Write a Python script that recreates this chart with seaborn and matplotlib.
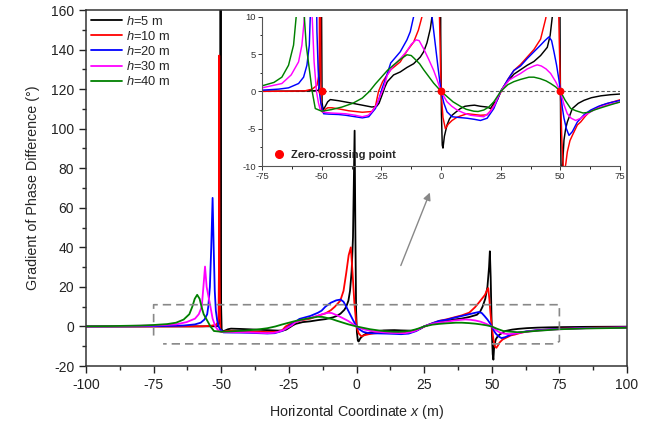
import numpy as np
import pandas as pd
import matplotlib
matplotlib.use("Agg")
import matplotlib.pyplot as plt
import seaborn as sns
from matplotlib.lines import Line2D
from matplotlib.ticker import MultipleLocator

sns.set_style("ticks")
plt.rcParams["font.family"] = ["Liberation Sans", "DejaVu Sans"]
plt.rcParams["mathtext.fontset"] = "custom"
plt.rcParams["mathtext.it"] = "Liberation Sans:italic"
plt.rcParams["mathtext.rm"] = "Liberation Sans"
plt.rcParams["axes.unicode_minus"] = False

# ---------------- data ----------------
labels = ["$h$=5 m", "$h$=10 m", "$h$=20 m", "$h$=30 m", "$h$=40 m"]
colors = ["#000000", "#ff0000", "#0000ff", "#ff00ff", "#008000"]

x_h5 = [-100, -90, -80, -75, -65, -58, -54, -52.5, -51.3, -50.8, -50.45, -50.25, -50.05, -49.85,
        -49.4, -48.5, -47.5, -46.4, -43, -38.7, -33, -29, -27, -26, -24.5, -23.5, -22.5, -19.9,
        -17.1, -14.3, -11.5, -8.7, -7.3, -5.9, -4.5, -3.8, -3.0, -2.4, -1.8, -1.3, -0.7, -0.4,
        -0.15, 0.15, 0.5, 0.8, 1.4, 2.5, 3.5, 4.6, 6.5, 8.1, 10, 12.3, 14, 16.5, 19.3, 20.7, 22.1,
        23.5, 24.9, 27, 30.5, 33.3, 36.1, 38.9, 41.7, 44.5, 45.7, 46.6, 47.6, 48.4, 49.0, 49.3,
        49.6, 49.9, 50.1, 50.35, 50.6, 50.9, 51.5, 52.2, 52.9, 55, 57.5, 59.9, 63, 66.9, 71, 75.3,
        85, 100]
y_h5 = [0, 0, 0, 0.02, 0.03, 0.05, 0.08, 0.1, 0.15, 1.5, 10, 200, 10, -1.5,
        -2.5, -2.0, -1.4, -1.1, -1.25, -1.5, -1.85, -2.1, -2.0, -1.6, -0.3, 0.6, 1.3, 2.2,
        2.6, 3.2, 3.7, 4.6, 5.3, 6.5, 8.4, 10, 13, 18, 28, 45, 99, 45,
        8, -3, -7.2, -7.6, -6, -4.5, -3.7, -3.2, -2.7, -2.3, -2.0, -1.9, -1.85, -2.0, -2.1, -2.3, -1.6,
        -1.2, 0, 1.0, 2.3, 2.9, 3.5, 4.0, 4.8, 5.9, 7.5, 10, 14, 20, 30, 38,
        25, 5, -5, -14, -16.8, -10, -6.5, -5.0, -4.1, -2.3, -1.6, -1.2, -0.85, -0.6, -0.45, -0.35,
        -0.2, -0.1]

x_h10 = [-100, -80, -75, -65, -57, -54, -52, -51.3, -51.0, -50.85, -50.75, -50.6, -50.45, -50.3,
         -50.0, -49.4, -48.5, -47.5, -45.7, -42, -38.7, -33, -29, -27.5, -26.2, -24.5, -21.1,
         -17.1, -14.3, -11.5, -9.5, -8, -6, -4.8, -3.8, -2.9, -2.1, -1.5, -0.8, 0, 0.8, 1.8, 3,
         4.6, 6.5, 8.1, 10.9, 13.7, 16.5, 19.3, 20.7, 22.8, 25.2, 28, 30.5, 33.3, 36.1, 38.9, 41.7,
         43.8, 45.5, 47.5, 48.3, 48.7, 49.1, 49.5, 50.0, 50.6, 51.2, 51.7, 52.3, 52.9, 54, 55,
         57.1, 58.5, 60.5, 62.7, 64.1, 67, 71.1, 75.3, 85, 100]
y_h10 = [0, 0, 0, 0.02, 0.07, 0.3, 0.8, 2.0, 5, 30, 137, 30, 5, -1.5,
         -2.7, -2.8, -2.4, -2.2, -2.2, -2.4, -2.6, -2.8, -2.7, -2.0, 0, 1.3, 2.9,
         3.95, 5.4, 6.6, 8.2, 10, 13, 18, 27, 36, 40, 28, 12, 0, -3.5, -5.0, -4.4,
         -3.9, -3.5, -3.3, -3.0, -3.1, -3.2, -3.15, -2.6, -1.6, 0, 1.6, 2.8, 3.6, 4.6, 5.6, 7.0,
         9.7, 12.5, 16, 18.5, 19.4, 14, 7, 0, -6.5, -10.2, -10.8, -9.6, -8.1, -6.6, -5.9,
         -4.5, -4.1, -3.3, -2.6, -2.4, -1.9, -1.5, -1.1, -0.7, -0.4]

x_h20 = [-100, -85, -75, -68, -63.9, -59.7, -57.6, -56.2, -55.2, -54.8, -54.2, -53.7, -53.2,
         -52.8, -52.4, -52.0, -51.5, -51.0, -50.4, -49.2, -47, -43, -40, -36, -33, -30.3, -27.5,
         -26, -24.7, -22.5, -21.1, -17.1, -14.3, -12.9, -11.5, -9.5, -7.5, -5.9, -4.8, -3.8, -2.5,
         -1.2, 0, 1.2, 2.5, 4.6, 7.5, 10.9, 14, 16.5, 19.3, 22.1, 25, 28, 30.5, 33.3, 36.1, 38.9,
         41.7, 43.5, 45.2, 46.3, 47.3, 48.4, 49.4, 50.0, 50.8, 51.5, 52.5, 53.6, 55, 57.1, 60,
         62.7, 66, 69.7, 75.3, 85, 100]
y_h20 = [0.02, 0.06, 0.16, 0.3, 0.47, 1.05, 1.9, 3.5, 6.2, 10, 20, 40, 65,
         40, 18, 8, 3, 0, -1.5, -3.0, -3.05, -3.1, -3.2, -3.4, -3.55, -3.4, -2.3,
         -1.0, 0.4, 2.4, 3.8, 5.3, 6.9, 8.0, 10, 12, 13.2, 13.6, 12.5, 10, 6.5,
         3, 0, -1.6, -2.75, -3.4, -3.5, -3.6, -3.75, -3.9, -3.6, -2.3, 0, 1.6, 2.8, 3.4, 4.4, 5.3,
         6.2, 6.8, 7.3, 6.8, 5.3, 3.5, 1.5, 0, -2.2, -3.6, -5.0, -5.9, -5.4, -4.1, -3.1,
         -2.5, -2.0, -1.6, -1.2, -0.8, -0.5]

x_h30 = [-100, -85, -75, -66.7, -62.8, -59.7, -58.3, -57.2, -56.6, -56.0, -55.4, -54.0, -53.2,
         -52.2, -51.4, -50.6, -49.2, -46, -40, -36, -33, -30.5, -28.9, -27, -26, -24, -22.5, -20,
         -17, -14.3, -12.5, -10.5, -9.2, -7.3, -5.2, -3.1, -1.5, 0, 1.2, 2.5, 4.5, 6.7, 9.5, 12.3,
         15, 17.9, 20.7, 22.5, 24.2, 26, 28.5, 30.5, 33.3, 36.1, 38.9, 40.3, 42, 44, 45.9, 48, 50,
         51.5, 52.9, 54.5, 56.4, 58.5, 61.3, 64, 66.9, 71, 75.3, 85, 100]
y_h30 = [0.1, 0.25, 0.47, 1.05, 2.2, 3.95, 6.2, 10, 20, 30.3, 20, 10, 4,
         0, -1.5, -2.5, -2.8, -2.9, -3.0, -3.2, -3.4, -3.2, -2.7, -1.8, -1.0, 0.5, 2.2, 3.4,
         4.4, 5.4, 6.3, 6.9, 6.8, 5.7, 4.3, 2.8, 1.4, 0, -0.7, -1.4, -2.0, -2.5, -2.9, -3.2,
         -3.3, -3.4, -2.7, -1.8, -0.5, 0.5, 1.5, 1.9, 2.4, 3.0, 3.4, 3.55, 3.4, 3.0, 2.4, 1.3, 0,
         -1.8, -3.0, -3.6, -3.9, -3.6, -3.0, -2.5, -2.1, -1.7, -1.4, -0.9, -0.6]

x_h40 = [-100, -90, -80, -75, -70, -66.7, -63.9, -61.8, -60.7, -59.8, -58.9, -58.0, -57.3,
         -56.5, -55.2, -54, -52.7, -50, -46, -41.5, -37, -33, -30, -27.5, -25, -22.5, -20, -17,
         -14.3, -12.5, -11.5, -9, -7.3, -5.9, -3.1, 0, 2.5, 5, 8.1, 10.5, 13.7, 15.5, 17.9, 20,
         22.1, 25, 28, 30.5, 33.3, 36.8, 38.9, 41.5, 44, 45.9, 48, 50, 52, 54.3, 56.5, 59.5, 62,
         64.1, 67, 71, 75.3, 85, 100]
y_h40 = [0.12, 0.22, 0.45, 0.74, 1.2, 1.9, 3.5, 6.2, 10, 14, 16, 14, 10,
         6.2, 3, 0, -2.3, -2.66, -2.45, -2.1, -1.6, -0.9, 0, 1.0, 1.9, 2.8, 3.5, 4.3,
         4.9, 4.8, 4.5, 3.7, 2.9, 2.3, 1.1, 0, -0.7, -1.4, -2.0, -2.4, -2.66, -2.7, -2.5, -2.1,
         -1.4, 0, 0.9, 1.3, 1.6, 1.9, 1.9, 1.7, 1.4, 1.05, 0.6, 0, -1.2, -2.3, -2.6, -2.9, -2.8,
         -2.5, -2.2, -1.8, -1.4, -1.0, -0.7]

zero_x = [-50, 0, 50]
zero_y = [0, 0, 0]

# ---------------- build long table ----------------
series_x = [x_h5, x_h10, x_h20, x_h30, x_h40]
series_y = [y_h5, y_h10, y_h20, y_h30, y_h40]
frames = []
for lab, xs, ys in zip(labels, series_x, series_y):
    frames.append(pd.DataFrame({"x": xs, "y": ys, "series": lab}))
df = pd.concat(frames, ignore_index=True)

fig = plt.figure(figsize=(6.53, 4.21), dpi=100)
ax = fig.add_axes([0.1317, 0.1306, 0.8285, 0.8456])

sns.lineplot(data=df, x="x", y="y", hue="series", hue_order=labels, palette=colors,
             estimator=None, sort=False, lw=1.3, ax=ax, legend=False)

ax.set_xlim(-100, 100)
ax.set_ylim(-20, 160)
ax.xaxis.set_major_locator(MultipleLocator(25))
ax.xaxis.set_minor_locator(MultipleLocator(12.5))
ax.yaxis.set_major_locator(MultipleLocator(20))
ax.yaxis.set_minor_locator(MultipleLocator(10))
ax.tick_params(which="major", direction="out", length=5, width=1, labelsize=10, colors="#222222")
ax.tick_params(which="minor", direction="out", length=3, width=1)
ax.tick_params(top=False, right=False)
for s in ax.spines.values():
    s.set_linewidth(1.1)
    s.set_color("#333333")
ax.set_xlabel("Horizontal Coordinate $x$ (m)", fontsize=10.3, labelpad=8)
ax.set_ylabel("Gradient of Phase Difference (°)", fontsize=10.3, labelpad=8)

handles = [Line2D([], [], color=c, lw=1.3) for c in colors]
ax.legend(handles, labels, loc="upper left", bbox_to_anchor=(0.0, 1.0), frameon=False,
          fontsize=9.3, handlelength=2.4, handletextpad=0.35, labelspacing=0.17,
          borderaxespad=0.15, borderpad=0.2)

# dashed frame marking the zoomed region
rect_x = [-75, -75, 75, 75, 73.5, -71.5]
rect_y = [-4.6, 11, 11, -7.5, -8.8, -8.8]
ax.plot(rect_x, rect_y, color="#888888", lw=1.2, ls=(0, (5, 3)))

ax.annotate("", xy=(27.5, 69), xytext=(16, 29.5),
            arrowprops=dict(arrowstyle="-|>", color="#888888", lw=1.0, mutation_scale=11))

# ---------------- inset ----------------
axi = fig.add_axes([0.4013, 0.6057, 0.5483, 0.3546])
axi.patch.set_alpha(0)
sns.lineplot(data=df, x="x", y="y", hue="series", hue_order=labels, palette=colors,
             estimator=None, sort=False, lw=1.05, ax=axi, legend=False)
axi.axhline(0, color="#555555", lw=0.8, ls=(0, (3, 2)), zorder=1)
axi.scatter(zero_x, zero_y, s=32, color="#ff0000", zorder=10, linewidths=0)
axi.set_xlim(-75, 75)
axi.set_ylim(-10, 10)
axi.xaxis.set_major_locator(MultipleLocator(25))
axi.xaxis.set_minor_locator(MultipleLocator(12.5))
axi.yaxis.set_major_locator(MultipleLocator(5))
axi.yaxis.set_minor_locator(MultipleLocator(2.5))
axi.tick_params(which="major", direction="out", length=3, width=0.7, labelsize=6.8, pad=1.5,
                colors="#333333")
axi.tick_params(which="minor", direction="out", length=1.8, width=0.7)
axi.spines["top"].set_visible(False)
axi.spines["right"].set_visible(False)
for side in ("left", "bottom"):
    axi.spines[side].set_linewidth(0.8)
    axi.spines[side].set_color("#555555")
axi.set_xlabel("")
axi.set_ylabel("")
zh = Line2D([], [], marker="o", color="#ff0000", ls="", ms=5.5)
axi.legend([zh], ["Zero-crossing point"], loc="lower left", frameon=False,
           prop={"weight": "bold", "size": 8}, handletextpad=0.1,
           borderaxespad=0.25, borderpad=0.3)

fig.savefig("out.png", dpi=100)
